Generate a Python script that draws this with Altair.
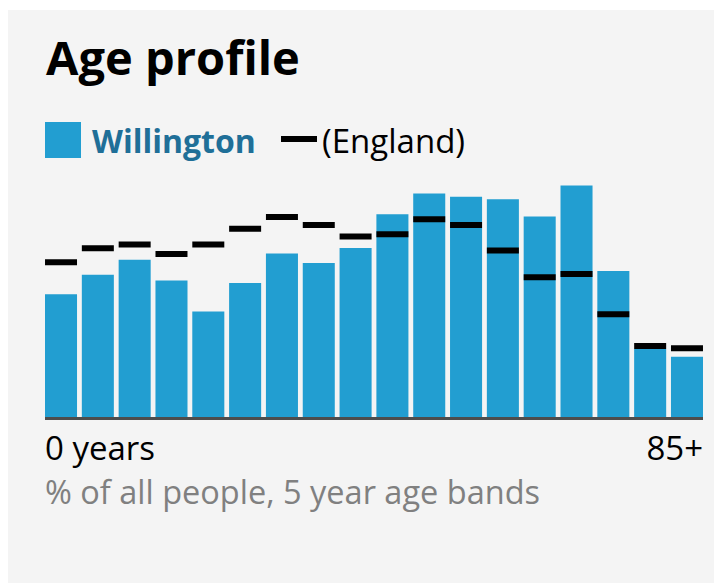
import altair as alt
import pandas as pd

# ---- data ----
age_bands = ["0-4", "5-9", "10-14", "15-19", "20-24", "25-29", "30-34", "35-39",
             "40-44", "45-49", "50-54", "55-59", "60-64", "65-69", "70-74",
             "75-79", "80-84", "85+"]
willington = [4.29, 4.97, 5.49, 4.77, 3.68, 4.68, 5.71, 5.38, 5.90,
              7.08, 7.80, 7.69, 7.60, 7.00, 8.08, 5.10, 2.37, 2.10]
england = [5.40, 5.89, 6.02, 5.69, 6.02, 6.57, 6.98, 6.70, 6.30,
           6.38, 6.90, 6.70, 5.81, 4.88, 4.99, 3.59, 2.48, 2.40]

title_text = "Age profile"
area_name = "Willington"
comp_name = "(England)"
first_label = "0 years"
last_label = "85+"
subtitle_text = "% of all people, 5 year age bands"

BAR = "#229ed1"
AREA_TXT = "#1f6f98"
BG = "#f4f4f4"
FONT = "Open Sans"

df = pd.DataFrame({"band": age_bands, "area": willington, "eng": england})

W, H = 658, 232

x_enc = alt.X("band:N", sort=age_bands, axis=None,
              scale=alt.Scale(paddingInner=0.13, paddingOuter=0))
y_scale = alt.Scale(domain=[0, 8.1], nice=False)

one = pd.DataFrame({"k": [0]})

panel = alt.Chart(one).mark_rect(color=BG).encode(
    x=alt.value(-37), x2=alt.value(669), y=alt.value(-175), y2=alt.value(398))

bars = alt.Chart(df).mark_bar(color=BAR).encode(
    x=x_enc,
    y=alt.Y("area:Q", scale=y_scale, axis=None),
)

ticks = alt.Chart(df).mark_tick(color="#000000", thickness=6, size=32,
                                opacity=1).encode(
    x=x_enc,
    y=alt.Y("eng:Q", scale=y_scale, axis=None),
)

baseline = alt.Chart(one).mark_rule(color="#4d4d4d", strokeWidth=3).encode(
    x=alt.value(0), x2=alt.value(W), y=alt.value(H + 1.5))

def txt(t, x, y, size, color="#000000", weight="normal", align="left"):
    return alt.Chart(pd.DataFrame({"t": [t]})).mark_text(
        font=FONT, fontSize=size, fontWeight=weight, color=color,
        align=align, baseline="alphabetic").encode(
        text="t:N", x=alt.value(x), y=alt.value(y))

title = txt(title_text, 1, -110, 47, weight="bold")
leg_sq = alt.Chart(one).mark_rect(color=BAR).encode(
    x=alt.value(0), x2=alt.value(36), y=alt.value(-63), y2=alt.value(-27))
leg_area = txt(area_name, 47, -32, 32, color=AREA_TXT, weight="bold")
leg_dash = alt.Chart(one).mark_rect(color="#000000").encode(
    x=alt.value(236), x2=alt.value(272), y=alt.value(-49), y2=alt.value(-43))
leg_comp = txt(comp_name, 277, -32, 33)

lab0 = txt(first_label, 0, 275, 33)
lab1 = txt(last_label, W, 275, 33, align="right")
sub = txt(subtitle_text, 0, 319, 32.5, color="#808080")

chart = alt.layer(
    panel, bars, ticks, baseline, title, leg_sq, leg_area, leg_dash, leg_comp,
    lab0, lab1, sub
).properties(
    width=W, height=H,
    autosize=alt.AutoSizeParams(type="none"),
    padding={"left": 45, "top": 185, "right": 11, "bottom": 166},
    background="#ffffff",
).configure_view(strokeWidth=0)

chart.save("out.html", embed_options={"renderer": "svg", "actions": False})
